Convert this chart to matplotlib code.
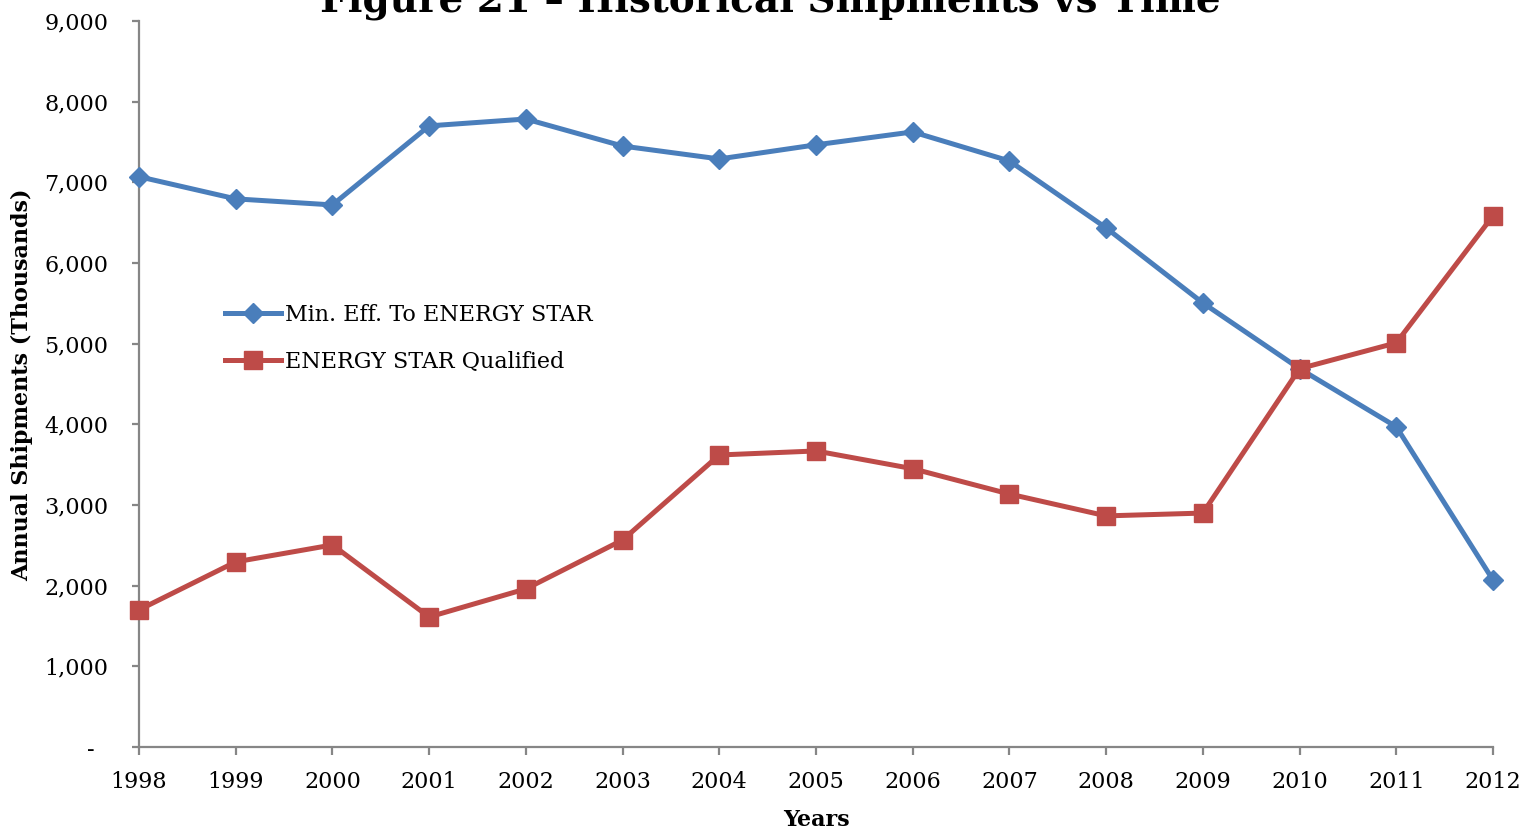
import matplotlib
matplotlib.use('Agg')
import matplotlib.pyplot as plt
from matplotlib.ticker import FuncFormatter

# values (thousands of units)
years = [1998, 1999, 2000, 2001, 2002, 2003, 2004, 2005,
         2006, 2007, 2008, 2009, 2010, 2011, 2012]
min_eff = [7070, 6795, 6720, 7700, 7785, 7450, 7290, 7465,
           7625, 7265, 6435, 5505, 4690, 3970, 2070]
energy_star = [1700, 2295, 2505, 1612, 1960, 2566, 3620, 3670,
               3450, 3136, 2865, 2900, 4690, 5010, 6585]
series_names = ["Min. Eff. To ENERGY STAR", "ENERGY STAR Qualified"]
y_ticks = list(range(0, 9001, 1000))

BLUE = "#4A7EBB"
RED = "#BE4B48"
GREY = "#868686"

plt.rcParams['font.family'] = ['DejaVu Serif']

fig = plt.figure(figsize=(15.26, 8.30), dpi=100)
ax = fig.add_axes([139 / 1526, 1 - 747 / 830, 1354 / 1526, 726 / 830])

ax.plot(years, min_eff, color=BLUE, lw=3.6, marker='D', ms=10,
        label=series_names[0], clip_on=False, zorder=3)
ax.plot(years, energy_star, color=RED, lw=3.6, marker='s', ms=13,
        label=series_names[1], clip_on=False, zorder=4)

ax.set_xlim(years[0], years[-1])
ax.set_ylim(0, 9000)
ax.set_xticks(years)
ax.set_yticks(y_ticks)
# Excel accounting style: zero shown as a dash
ax.yaxis.set_major_formatter(FuncFormatter(
    lambda v, p: "-  " if v == 0 else f"{int(v):,}"))

for side in ('top', 'right'):
    ax.spines[side].set_visible(False)
for side in ('left', 'bottom'):
    ax.spines[side].set_color(GREY)
    ax.spines[side].set_linewidth(1.6)

ax.tick_params(axis='both', direction='out', color=GREY, width=1.6,
               labelsize=16, labelcolor='black')
ax.tick_params(axis='y', length=5, pad=17)
ax.tick_params(axis='x', length=6, pad=11)

ax.legend(loc='center left', bbox_to_anchor=(0.0635, 0.563), frameon=False,
          fontsize=16, handlelength=2.5, handletextpad=0.2,
          labelspacing=1.13, borderpad=0, borderaxespad=0)

fig.text(770 / 1526, 1 - 12 / 830, "Figure 21 \u2013 Historical Shipments vs Time",
         ha='center', va='baseline', fontsize=28, fontweight='bold')
fig.text(22 / 1526, 1 - 385 / 830, "Annual Shipments (Thousands)",
         rotation=90, ha='center', va='center', fontsize=16, fontweight='bold')
fig.text(816 / 1526, 1 - 820 / 830, "Years",
         ha='center', va='center', fontsize=16, fontweight='bold')

fig.savefig('out.png', dpi=100)
